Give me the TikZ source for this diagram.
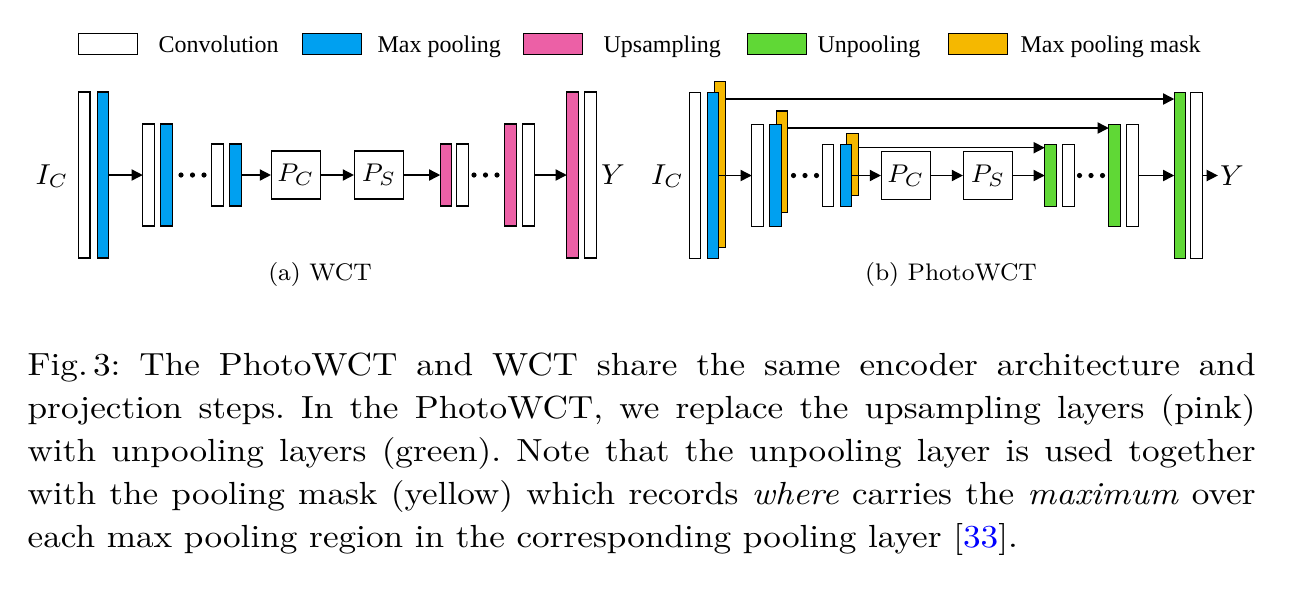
\documentclass[tikz,border=0pt]{standalone}
\usepackage{fontspec}
\newfontfamily\legendfont{Liberation Serif}
\newfontfamily\captionfont{lmroman10}[Extension=.otf, UprightFont=*-regular, ItalicFont=*-italic, FakeStretch=1.1]
\usetikzlibrary{arrows.meta, positioning}

\definecolor{poolblue}{RGB}{0,160,240}
\definecolor{uppink}{RGB}{236,96,166}
\definecolor{unpoolgreen}{RGB}{96,216,54}
\definecolor{maskorange}{RGB}{245,184,0}

\begin{document}
\begin{tikzpicture}[
    x=0.3125pt, y=-0.3125pt,
    layer/.style={draw, line width=0.45pt, inner sep=0pt, outer sep=0pt, minimum width=3.6pt},
    conv/.style={layer, fill=white},
    pool/.style={layer, fill=poolblue},
    upsamp/.style={layer, fill=uppink},
    unpool/.style={layer, fill=unpoolgreen},
    mask/.style={layer, fill=maskorange},
    layhi/.style={minimum height=52pt},
    laymid/.style={minimum height=31.8pt},
    laylo/.style={minimum height=19.4pt},
    proj/.style={draw, line width=0.45pt, minimum width=15.2pt, minimum height=15pt, inner sep=0pt, font=\fontsize{8.5}{10}\selectfont},
    lbl/.style={inner sep=0.5pt, font=\fontsize{9}{10}\selectfont},
    legbox/.style={draw, line width=0.55pt, minimum width=18.4pt, minimum height=6.6pt, inner sep=0pt},
    legtext/.style={anchor=base west, inner sep=0pt, font=\fontsize{7.5}{9}\legendfont},
    subcap/.style={anchor=base, inner sep=0pt, font=\fontsize{7.5}{9}\selectfont},
    caption/.style={anchor=base west, inner sep=0pt, text width=383.75pt, align=justify, font=\fontsize{10}{13.44}\captionfont\frenchspacing},
    arrow/.style={line width=0.45pt, -{Triangle[length=3.5pt, width=3.5pt]}}
]
\useasboundingbox (0,0) rectangle (1312,613);

% legend
\node[legbox, fill=white] (lgconv) at (108,44) {};
\node[legtext] (lgconvt) at (158,52) {Convolution};
\node[legbox, fill=poolblue] (lgpool) at (332,44) {};
\node[legtext] (lgpoolt) at (377,52) {Max pooling};
\node[legbox, fill=uppink] (lgup) at (553,44) {};
\node[legtext] (lgupt) at (603,52) {Upsampling};
\node[legbox, fill=unpoolgreen] (lgunpool) at (777,44) {};
\node[legtext] (lgunpoolt) at (817,52) {Unpooling};
\node[legbox, fill=maskorange] (lgmask) at (978,44) {};
\node[legtext] (lgmaskt) at (1020,52) {Max pooling mask};

% (a) WCT
\node[lbl] (lic) at (52,176) {$I_C$};
\node[conv, layhi] (lconv1) at (84.2,175) {};
\node[pool, layhi] (lpool1) at (103,175) {};
\node[conv, laymid] (lconv2) at (148.5,175) {};
\node[pool, laymid] (lpool2) at (166.5,175) {};
\node[conv, laylo] (lconv3) at (217.5,175) {};
\node[pool, laylo] (lpool3) at (235.5,175) {};
\node[proj] (lpc) at (296,175) {$P_C$};
\node[proj] (lps) at (379,175) {$P_S$};
\node[upsamp, laylo] (lup1) at (446,175) {};
\node[conv, laylo] (lconv4) at (462.5,175) {};
\node[upsamp, laymid] (lup2) at (510.5,175) {};
\node[conv, laymid] (lconv5) at (528.5,175) {};
\node[upsamp, layhi] (lup3) at (572.5,175) {};
\node[conv, layhi] (lconv6) at (590.5,175) {};
\node[lbl] (ly) at (613,175) {$Y$};

\draw[arrow] (lpool1) -- (lconv2);
\draw[arrow] (lpool3) -- (lpc);
\draw[arrow] (lpc) -- (lps);
\draw[arrow] (lps) -- (lup1);
\draw[arrow] (lconv5) -- (lup3);
\foreach \dx in {-11.5,0,11.5} {
  \fill (192.5+\dx,175) circle (2.6);
  \fill (485.5+\dx,175) circle (2.6);
}
\node[subcap] (capa) at (320,280) {(a) WCT};

% (b) PhotoWCT
\node[lbl] (ric) at (667.5,176) {$I_C$};
\node[mask, layhi] (rmask1) at (720,164.5) {};
\node[conv, layhi] (rconv1) at (695,175.5) {};
\node[pool, layhi] (rpool1) at (713,175.5) {};
\node[mask, laymid] (rmask2) at (782,161.7) {};
\node[conv, laymid] (rconv2) at (757.5,175.5) {};
\node[pool, laymid] (rpool2) at (775.5,175.5) {};
\node[mask, laylo] (rmask3) at (852.5,164.5) {};
\node[conv, laylo] (rconv3) at (828,175.5) {};
\node[pool, laylo] (rpool3) at (846,175.5) {};
\node[proj] (rpc) at (906,175.5) {$P_C$};
\node[proj] (rps) at (988,175.5) {$P_S$};
\node[unpool, laylo] (rup1) at (1050.5,175.5) {};
\node[conv, laylo] (rconv4) at (1068.5,175.5) {};
\node[unpool, laymid] (rup2) at (1114.5,175.5) {};
\node[conv, laymid] (rconv5) at (1132.5,175.5) {};
\node[unpool, layhi] (rup3) at (1180,175.5) {};
\node[conv, layhi] (rconv6) at (1196.5,175.5) {};
\node[lbl] (ry) at (1232,175.5) {$Y$};

\draw[arrow] (rpool1) -- (rconv2);
\draw[arrow] (rpool3) -- (rpc);
\draw[arrow] (rpc) -- (rps);
\draw[arrow] (rps) -- (rup1);
\draw[arrow] (rconv5) -- (rup3);
\draw[arrow] (rconv6) -- (ry);
% pooling masks to unpooling
\draw[arrow] (rmask1.east |- 0,99) -- (rup3.west |- 0,99);
\draw[arrow] (rmask2.east |- 0,128) -- (rup2.west |- 0,128);
\draw[arrow] (rmask3.east |- 0,147.7) -- (rup1.west |- 0,147.7);
\foreach \dx in {-11.5,0,11.5} {
  \fill (805+\dx,175.5) circle (2.6);
  \fill (1091+\dx,175.5) circle (2.6);
}
\node[subcap] (capb) at (951,280) {(b) PhotoWCT};

% caption
\node[caption] (cap) at (27,375) {Fig.\,3: The PhotoWCT and WCT share the same encoder architecture and\linebreak
projection steps. In the PhotoWCT, we replace the upsampling layers (pink)\linebreak
with unpooling layers (green). Note that the unpooling layer is used together\linebreak
with the pooling mask (yellow) which records \emph{where} carries the \emph{maximum} over\linebreak
each max pooling region in the corresponding pooling layer [\textcolor{blue}{33}].};
\end{tikzpicture}
\end{document}
